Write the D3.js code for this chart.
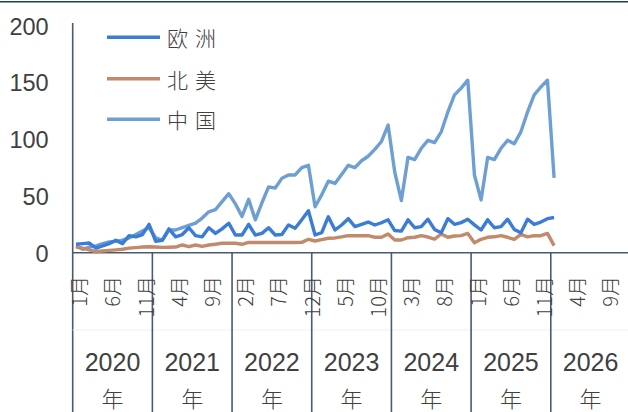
<!DOCTYPE html>
<html>
<head>
<meta charset="utf-8">
<script src="https://cdn.jsdelivr.net/npm/d3@7"></script>
<style>
  html, body { margin: 0; padding: 0; background: #fff; }
  svg { display: block; }
</style>
</head>
<body>
<svg id="chart" width="628" height="412"></svg>
<script>
// Monthly categories: Jan 2020 through Dec 2026
const years = [2020, 2021, 2022, 2023, 2024, 2025, 2026];
const monthNames = ["1月","2月","3月","4月","5月","6月","7月","8月","9月","10月","11月","12月"];
const yTicks = [0, 50, 100, 150, 200];

// Series values, Jan 2020 – Jan 2026
const europe = [
  7.5, 8, 8.5, 4, 6, 8, 11, 8, 15, 14, 16, 25,
  10, 11, 21, 14, 16, 22, 15, 14, 22, 17, 21, 26,
  15.6, 15.6, 25, 15.6, 17, 22, 15.6, 16, 24.5, 21.5, 29, 37,
  15.6, 17.6, 31.7, 20, 24.4, 30, 23, 25, 27, 24.4, 26.4, 29,
  19.5, 19, 29, 22, 23, 29.5, 20.5, 17.5, 30, 25, 26.5, 29.5,
  24.5, 20, 29, 22, 23, 29.5, 20.5, 17.5, 29.5, 25, 27, 30,
  31
];
const northAmerica = [
  5, 4, 2.5, 1, 1.5, 2, 2.5, 3, 4, 4.5, 5, 5.3,
  5, 4.7, 4.8, 5, 6.8, 5.3, 6.8, 5.5, 6.8, 7.5, 8.3, 8.3,
  8.3, 7.4, 9, 9, 9, 9, 9, 9, 9, 9, 9.1, 11.8,
  10.3, 11.5, 12.7, 13, 14, 15, 15, 15, 15, 13.6, 13.6, 16.5,
  11.2, 11.2, 13.2, 13.6, 15, 13.8, 12, 16.5, 13.6, 14.7, 15, 17,
  8.8, 11.8, 13.6, 14, 15, 13.6, 11.8, 16.2, 14, 15, 15, 17,
  6.2
];
const china = [
  6, 3, 5, 6, 8, 9.5, 10, 11, 13, 16, 19, 22,
  13, 11, 20, 20, 22, 24, 26, 30.5, 36, 38, 45, 52,
  43, 32, 47, 29, 44, 58, 57, 65.5, 68.5, 68.5, 75, 77,
  40.5, 51, 63, 61, 69, 77, 75, 81, 85, 91, 98, 112.5,
  71, 46, 84, 82, 92, 99, 97, 106.5, 124, 139, 145, 152,
  68.5, 46.5, 84, 82, 92, 99, 96, 106.5, 124, 139, 146, 152,
  66
];

const seriesNames = ["欧洲", "北美", "中国"];
const seriesColors = ["#3b7dd6", "#c08a6b", "#6d9fd4"];
const seriesData = [europe, northAmerica, china];

const svg = d3.select("#chart");
const W = 628, H = 412;
const left = 72.7, axisY = 252.7, topY = 25.7;
const monthW = 6.64;

const categories = [];
years.forEach(y => monthNames.forEach((m, mi) => categories.push({ year: y, month: m, key: y + "-" + (mi + 1) })));

const x = d3.scaleBand()
  .domain(categories.map(d => d.key))
  .range([left, left + categories.length * monthW])
  .paddingInner(0).paddingOuter(0);

const y = d3.scaleLinear().domain([0, 200]).range([axisY, topY]);

const axisColor = "#4b5a6e";
const textColor = "#404040";
const latin = "'Liberation Sans', Arial, sans-serif";
const cjk = "'Noto Sans CJK SC', 'Liberation Sans', sans-serif";

// Top rule
svg.append("line")
  .attr("x1", 0).attr("x2", W).attr("y1", 1.7).attr("y2", 1.7)
  .attr("stroke", "#1d3c5e").attr("stroke-width", 1.6);

// Y axis labels (no tick marks)
const yAxis = d3.axisLeft(y).tickValues(yTicks).tickSize(0).tickPadding(0);
const yg = svg.append("g").attr("transform", `translate(${left - 24},0)`).call(yAxis);
yg.select(".domain").remove();
yg.selectAll("text")
  .attr("font-family", latin).attr("font-size", 23.5).attr("fill", textColor)
  .attr("dy", "0.36em");

// Y axis line, continuing down through the category rows
svg.append("line")
  .attr("x1", left).attr("x2", left).attr("y1", 23).attr("y2", H)
  .attr("stroke", axisColor).attr("stroke-width", 1.6);

// X axis baseline
svg.append("line")
  .attr("x1", left).attr("x2", W).attr("y1", axisY).attr("y2", axisY)
  .attr("stroke", axisColor).attr("stroke-width", 1.6);

// Faint divider between month row and year row
svg.append("line")
  .attr("x1", left).attr("x2", W).attr("y1", 330).attr("y2", 330)
  .attr("stroke", "#eef0f3").attr("stroke-width", 1);

// Year boundary lines
years.slice(1).forEach(yr => {
  const xb = x(yr + "-1");
  svg.append("line")
    .attr("x1", xb).attr("x2", xb).attr("y1", axisY).attr("y2", H)
    .attr("stroke", axisColor).attr("stroke-width", 1.6);
});

// Month labels, every fifth category, rotated
const monthG = svg.append("g");
categories.forEach((c, i) => {
  if (i % 5 !== 0) return;
  const cx = x(c.key) + x.bandwidth() / 2 + 4;
  monthG.append("text")
    .attr("transform", `translate(${cx},276) rotate(-90)`)
    .attr("text-anchor", "end")
    .attr("dy", "0.36em")
    .attr("font-family", cjk).attr("font-size", 20).attr("font-weight", 300)
    .attr("fill", textColor)
    .text(c.month);
});

// Year labels
years.forEach(yr => {
  const x0 = x(yr + "-1"), x1 = x(yr + "-12") + x.bandwidth();
  const cx = (x0 + x1) / 2;
  svg.append("text")
    .attr("x", cx).attr("y", 371)
    .attr("text-anchor", "middle")
    .attr("font-family", latin).attr("font-size", 25).attr("fill", textColor)
    .text(yr);
  svg.append("text")
    .attr("x", cx).attr("y", 397)
    .attr("text-anchor", "middle").attr("dominant-baseline", "central")
    .attr("font-family", cjk).attr("font-size", 22).attr("font-weight", 300)
    .attr("fill", textColor)
    .text("年");
});

// Lines (draw China first so Europe sits on top)
const line = d3.line()
  .x((d, i) => x(categories[i].key) + x.bandwidth() / 2)
  .y(d => y(d))
  .curve(d3.curveLinear);

[2, 1, 0].forEach(si => {
  svg.append("path")
    .datum(seriesData[si])
    .attr("fill", "none")
    .attr("stroke", seriesColors[si])
    .attr("stroke-width", 3.4)
    .attr("stroke-linejoin", "round")
    .attr("d", line);
});

// Legend
const legendY = [37.3, 78.7, 119.3];
seriesNames.forEach((name, i) => {
  svg.append("line")
    .attr("x1", 107).attr("x2", 160).attr("y1", legendY[i]).attr("y2", legendY[i])
    .attr("stroke", seriesColors[i]).attr("stroke-width", 3.4);
  svg.append("text")
    .attr("x", 167).attr("y", legendY[i])
    .attr("dominant-baseline", "central")
    .attr("font-family", cjk).attr("font-size", 21).attr("font-weight", 300)
    .attr("fill", textColor)
    .attr("letter-spacing", 7)
    .text(name);
});
</script>
</body>
</html>
